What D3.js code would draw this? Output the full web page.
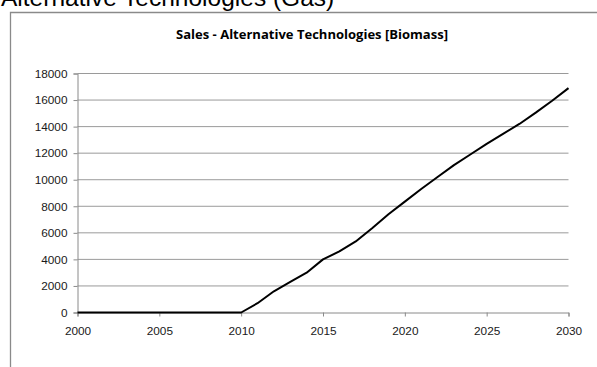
<!DOCTYPE html>
<html>
<head>
<meta charset="utf-8">
<script src="https://cdn.jsdelivr.net/npm/d3@7"></script>
<style>
  body { margin: 0; background: #fff; }
  svg { display: block; }
</style>
</head>
<body>
<div id="chart"></div>
<script>
// values
var years = [2000, 2001, 2002, 2003, 2004, 2005, 2006, 2007, 2008, 2009, 2010,
             2011, 2012, 2013, 2014, 2015, 2016, 2017, 2018, 2019, 2020,
             2021, 2022, 2023, 2024, 2025, 2026, 2027, 2028, 2029, 2030];
var sales = [0, 0, 0, 0, 0, 0, 0, 0, 0, 0, 0,
             700, 1600, 2300, 3000, 4000, 4600, 5350, 6350, 7400, 8350,
             9300, 10200, 11100, 11900, 12700, 13450, 14200, 15050, 15950, 16900];
var xTicks = [2000, 2005, 2010, 2015, 2020, 2025, 2030];
var yTicks = [0, 2000, 4000, 6000, 8000, 10000, 12000, 14000, 16000, 18000];

var width = 597, height = 367;

var svg = d3.select('#chart').append('svg')
	.attr('width', width)
	.attr('height', height);

//Page heading (cut off at the top in the original)
svg.append('text')
	.attr('x', 1)
	.attr('y', 6)
	.attr('font-family', 'Liberation Sans, Arial, sans-serif')
	.attr('font-size', '24.5px')
	.attr('fill', '#000')
	.text('Alternative Technologies (Gas)');

//Chart frame
svg.append('path')
	.attr('d', 'M10.5,' + height + 'V12.5H' + width)
	.attr('fill', 'none')
	.attr('stroke', '#8a8a8a')
	.attr('stroke-width', 1.3);

//Chart title
svg.append('text')
	.attr('x', 312)
	.attr('y', 39)
	.attr('text-anchor', 'middle')
	.attr('font-family', 'Open Sans, sans-serif')
	.attr('font-weight', '700')
	.attr('font-size', '12px')
	.attr('textLength', 272)
	.attr('lengthAdjust', 'spacingAndGlyphs')
	.attr('fill', '#000')
	.text('Sales - Alternative Technologies [Biomass]');

var x = d3.scaleLinear().domain([2000, 2030]).range([77.5, 568.5]);
var y = d3.scaleLinear().domain([0, 18000]).range([312.5, 73.5]);

//Gridlines
svg.append('g')
	.selectAll('line')
	.data(yTicks.filter(function(d) { return d > 0; }))
	.enter()
	.append('line')
	.attr('x1', x(2000))
	.attr('x2', x(2030))
	.attr('y1', function(d) { return y(d); })
	.attr('y2', function(d) { return y(d); })
	.attr('stroke', '#9a9a9a')
	.attr('stroke-width', 1);

//Y axis
var yAxis = svg.append('g')
	.attr('transform', 'translate(' + x(2000) + ',0)')
	.call(d3.axisLeft(y).tickValues(yTicks).tickSize(4).tickPadding(6).tickFormat(d3.format('d')));

//X axis
var xAxis = svg.append('g')
	.attr('transform', 'translate(0,' + y(0) + ')')
	.call(d3.axisBottom(x).tickValues(xTicks).tickSize(4).tickPadding(10).tickFormat(d3.format('d')));

[yAxis, xAxis].forEach(function(ax) {
	ax.select('.domain').attr('stroke', '#8a8a8a');
	ax.selectAll('.tick line').attr('stroke', '#8a8a8a');
	ax.selectAll('.tick text')
		.attr('font-family', 'Liberation Sans, Arial, sans-serif')
		.attr('font-size', '11.8px')
		.attr('fill', '#1a1a1a');
});

//Sales line
var line = d3.line()
	.x(function(d, i) { return x(years[i]); })
	.y(function(d) { return y(d); });

svg.append('path')
	.datum(sales)
	.attr('d', line)
	.attr('fill', 'none')
	.attr('stroke', '#000')
	.attr('stroke-width', 2)
	.attr('stroke-linejoin', 'round');
</script>
</body>
</html>
